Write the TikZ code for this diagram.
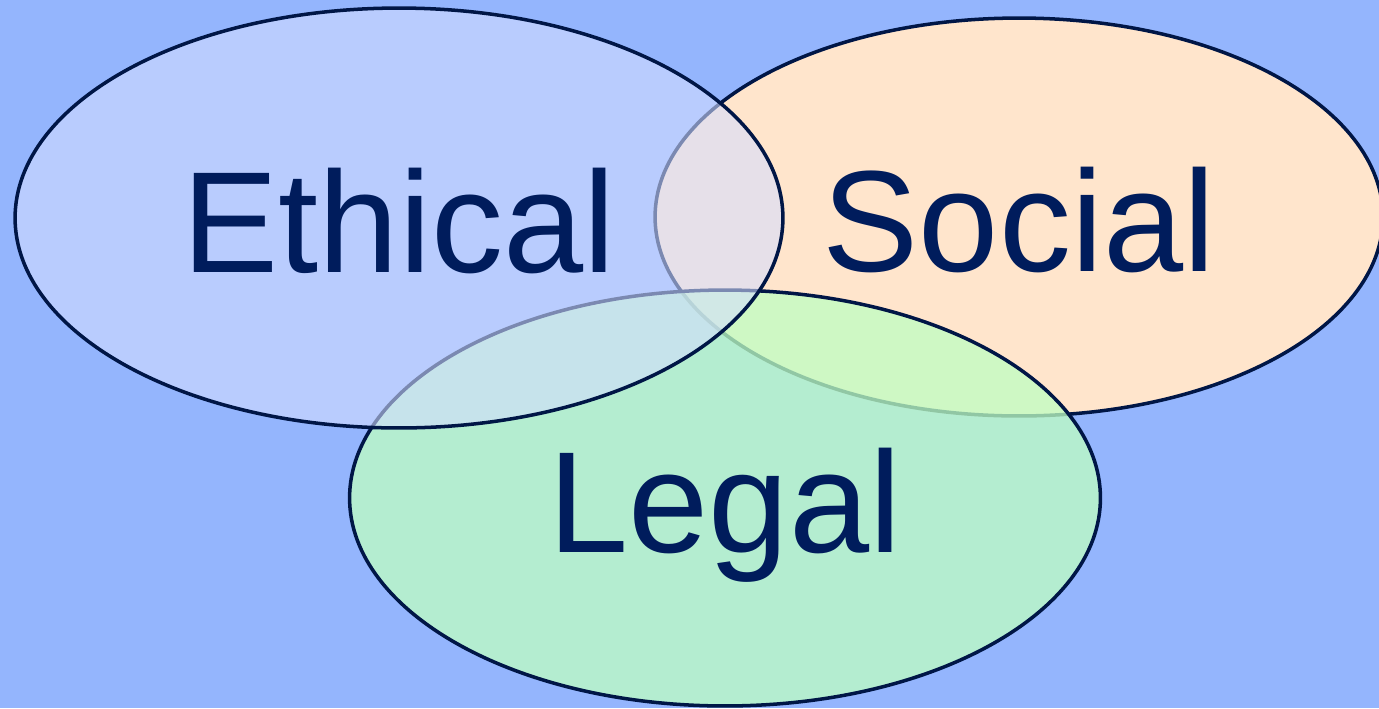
\documentclass[tikz,border=0pt]{standalone}
\usepackage{fontspec}
\setmainfont{Liberation Sans}
\usetikzlibrary{shapes.geometric}

\definecolor{bgblue}{RGB}{148,181,253}
\definecolor{ethicalfill}{RGB}{212,221,255}
\definecolor{socialfill}{RGB}{255,229,204}
\definecolor{legalfill}{RGB}{191,255,194}
\definecolor{rimnavy}{RGB}{0,22,70}
\definecolor{textnavy}{RGB}{0,28,92}

\tikzset{
    set/.style={
        ellipse,
        draw=rimnavy,
        line width=2pt,
        inner sep=0pt,
        text=textnavy,
        text opacity=1,
        text height=62pt,
        text depth=0pt,
        font=\fontsize{82}{98}\selectfont
    }
}

\begin{document}
\begin{tikzpicture}[x=0.02cm,y=-0.02cm]
        % Background
        \fill[bgblue] (0,0) rectangle (1379,708);
        \clip (0,0) rectangle (1379,708);
        % Social set (bottom)
        \node[
            set,
            fill=socialfill,
            minimum width=14.56cm,
            minimum height=7.96cm
        ] (Social) at (1019,217) {Social};
        % Legal set
        \node[
            set,
            fill=legalfill,
            fill opacity=0.76,
            minimum width=15.02cm,
            minimum height=8.32cm
        ] (Legal) at (725,498) {Legal};
        % Ethical set (top)
        \node[
            set,
            fill=ethicalfill,
            fill opacity=0.58,
            minimum width=15.36cm,
            minimum height=8.4cm
        ] (Ethical) at (399,218) {Ethical};
    \end{tikzpicture}
\end{document}
